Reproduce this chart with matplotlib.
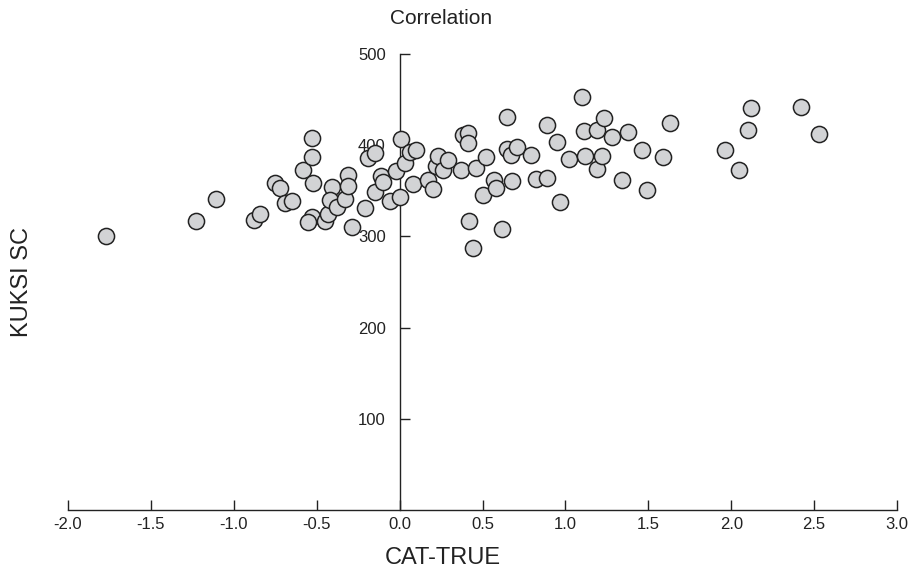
import matplotlib
matplotlib.use("Agg")
from matplotlib import pyplot as plt
from matplotlib import font_manager

# values
cat_true = [
    -1.77, -1.23, -1.11, -0.88, -0.84, -0.75, -0.72, -0.69, -0.65, -0.58,
    -0.53, -0.53, -0.52, -0.53, -0.55, -0.45, -0.43, -0.41, -0.42, -0.38,
    -0.33, -0.31, -0.31, -0.29, -0.21, -0.19, -0.15, -0.15, -0.11, -0.10,
    -0.06, -0.02, 0.00, 0.01, 0.03, 0.06, 0.10, 0.08, 0.17, 0.20,
    0.22, 0.23, 0.26, 0.29, 0.37, 0.38, 0.41, 0.41, 0.42, 0.44,
    0.46, 0.50, 0.52, 0.57, 0.58, 0.62, 0.65, 0.65, 0.67, 0.68,
    0.71, 0.79, 0.82, 0.89, 0.89, 0.95, 0.97, 1.02, 1.10, 1.11,
    1.12, 1.19, 1.19, 1.22, 1.23, 1.28, 1.34, 1.38, 1.46, 1.49,
    1.59, 1.63, 1.96, 2.05, 2.10, 2.12, 2.42, 2.53,
]
kuksi_sc = [
    300, 317, 341, 318, 325, 359, 353, 337, 339, 373,
    387, 408, 359, 321, 316, 317, 325, 354, 340, 332,
    341, 367, 355, 310, 331, 386, 391, 349, 366, 360,
    339, 372, 343, 407, 380, 393, 395, 357, 362, 352,
    377, 388, 373, 384, 373, 411, 413, 402, 317, 287,
    375, 345, 387, 362, 353, 308, 431, 396, 389, 361,
    398, 389, 363, 422, 364, 403, 338, 385, 453, 416,
    388, 374, 417, 388, 430, 409, 362, 414, 395, 351,
    387, 424, 395, 373, 417, 441, 442, 412,
]
x_ticks = [-2.0, -1.5, -1.0, -0.5, 0.0, 0.5, 1.0, 1.5, 2.0, 2.5, 3.0]
y_ticks = [100, 200, 300, 400, 500]

installed = {f.name for f in font_manager.fontManager.ttflist}
narrow = [f for f in ["Liberation Sans Narrow", "DejaVu Sans Condensed", "Liberation Sans"] if f in installed]
plt.rcParams["font.family"] = ["Liberation Sans", "DejaVu Sans"]

fig = plt.figure(figsize=(9.08, 5.73), dpi=100)
ax = fig.add_axes([68 / 908, 1 - 510 / 573, (897 - 68) / 908, (510 - 54) / 573])

ax.scatter(cat_true, kuksi_sc, s=135, facecolor="#d2d3d5", edgecolor="#222222",
           linewidths=1.1, zorder=3, clip_on=False)

ax.set_xlim(-2.0, 3.0)
ax.set_ylim(0, 500)
ax.spines["top"].set_visible(False)
ax.spines["right"].set_visible(False)
ax.spines["left"].set_position(("data", 0))
ax.spines["left"].set_bounds(0, 500)
for s in ("left", "bottom"):
    ax.spines[s].set_linewidth(1.0)
    ax.spines[s].set_color("#222222")

ax.set_xticks(x_ticks)
ax.set_xticklabels([f"{t:.1f}" for t in x_ticks])
ax.set_yticks(y_ticks)
ax.set_yticklabels([str(t) for t in y_ticks])
ax.tick_params(axis="x", direction="in", length=7, width=1.0, pad=5, colors="#222222")
ax.tick_params(axis="y", direction="in", length=7, width=1.0, pad=10, colors="#222222")
for lab in ax.get_xticklabels() + ax.get_yticklabels():
    lab.set_fontfamily(narrow + ["DejaVu Sans"])
    lab.set_fontsize(12)

fig.text(441 / 908, 1 - 18 / 573, "Correlation", ha="center", va="center", fontsize=15, color="#222222")
fig.text(443 / 908, 1 - 558 / 573, "CAT-TRUE", ha="center", va="center", fontsize=17, color="#222222")
fig.text(22 / 908, 1 - 282 / 573, "KUKSI SC", ha="center", va="center", rotation=90, fontsize=17, color="#222222")

fig.savefig("out.png", dpi=100)
